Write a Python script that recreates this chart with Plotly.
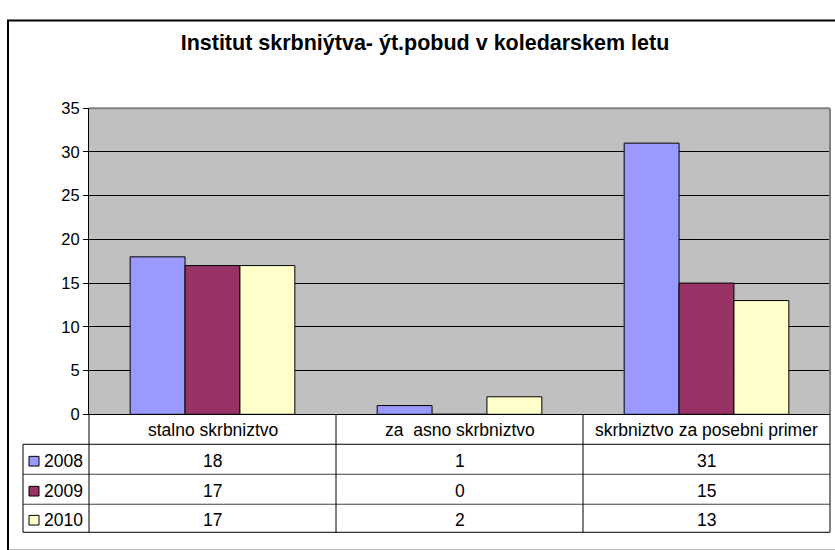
import plotly.graph_objects as go

W, H = 835, 550

title = "Institut skrbniýtva- ýt.pobud v koledarskem letu"
categories = ["stalno skrbniztvo", "za  asno skrbniztvo", "skrbniztvo za posebni primer"]
series_names = ["2008", "2009", "2010"]
values_2008 = [18, 1, 31]
values_2009 = [17, 0, 15]
values_2010 = [17, 2, 13]
series_values = [values_2008, values_2009, values_2010]
colors = ["#9999FF", "#993366", "#FFFFCC"]
y_ticks = [0, 5, 10, 15, 20, 25, 30, 35]


def px(x):
    return x / W


def py(y):
    return 1 - y / H


FONT = "Liberation Sans, Arial, sans-serif"

# layout geometry (pixels)
PL, PR, PT, PB = 89, 830, 102.5, 419
ROW_EDGES = [419, 450, 481, 512, 541]
LEG_L = 23

fig = go.Figure()
for name, vals, col in zip(series_names, series_values, colors):
    fig.add_trace(go.Bar(
        x=categories, y=vals, name=name,
        marker=dict(color=col, line=dict(color="black", width=1)),
        showlegend=False, hoverinfo="skip",
    ))

shapes = []
line_dark = dict(color="black", width=1)
line_gray = dict(color="#404040", width=1)

# outer frame
shapes.append(dict(type="rect", xref="paper", yref="paper",
                   x0=px(8), x1=px(W + 10), y0=py(H + 10), y1=py(12),
                   line=dict(color="black", width=2), fillcolor="rgba(0,0,0,0)", layer="below"))
# plot area top & right border (gray)
shapes.append(dict(type="line", xref="paper", yref="paper",
                   x0=px(PL), x1=px(PR), y0=py(PT), y1=py(PT),
                   line=dict(color="#808080", width=2)))
shapes.append(dict(type="line", xref="paper", yref="paper",
                   x0=px(PR), x1=px(PR), y0=py(PT), y1=py(PB),
                   line=dict(color="#808080", width=2)))

# table horizontal lines
shapes.append(dict(type="line", xref="paper", yref="paper",
                   x0=px(LEG_L), x1=px(PR), y0=py(ROW_EDGES[1]), y1=py(ROW_EDGES[1]), line=line_dark))
for ye in ROW_EDGES[2:4]:
    shapes.append(dict(type="line", xref="paper", yref="paper",
                       x0=px(LEG_L), x1=px(PR), y0=py(ye), y1=py(ye), line=line_gray))
shapes.append(dict(type="line", xref="paper", yref="paper",
                   x0=px(LEG_L), x1=px(PR), y0=py(ROW_EDGES[4]), y1=py(ROW_EDGES[4]), line=line_dark))
# table vertical lines
col_w = (PR - PL) / len(categories)
for i in range(len(categories) + 1):
    xv = PL + i * col_w
    shapes.append(dict(type="line", xref="paper", yref="paper",
                       x0=px(xv), x1=px(xv), y0=py(ROW_EDGES[0]), y1=py(ROW_EDGES[4]), line=line_dark))
shapes.append(dict(type="line", xref="paper", yref="paper",
                   x0=px(LEG_L), x1=px(LEG_L), y0=py(ROW_EDGES[1]), y1=py(ROW_EDGES[4]), line=line_dark))

annotations = []
TFS = 17.5
# header categories
for c in categories:
    annotations.append(dict(x=c, xref="x", y=py((ROW_EDGES[0] + ROW_EDGES[1]) / 2 + 1), yref="paper",
                            text=c, showarrow=False, xanchor="center", yanchor="middle",
                            font=dict(family=FONT, size=TFS, color="black")))
# rows
for r, (name, vals, col) in enumerate(zip(series_names, series_values, colors)):
    yc = (ROW_EDGES[r + 1] + ROW_EDGES[r + 2]) / 2 + 2
    for c, v in zip(categories, vals):
        annotations.append(dict(x=c, xref="x", y=py(yc), yref="paper",
                                text=str(v), showarrow=False, xanchor="center", yanchor="middle",
                                font=dict(family=FONT, size=TFS, color="black")))
    annotations.append(dict(x=px(42), xref="paper", y=py(yc), yref="paper",
                            text=name, showarrow=False, xanchor="left", yanchor="middle",
                            font=dict(family=FONT, size=TFS, color="black")))
    shapes.append(dict(type="rect", xref="paper", yref="paper",
                       x0=px(29), x1=px(39), y0=py(yc + 5), y1=py(yc - 5),
                       fillcolor=col, line=dict(color="black", width=1)))

fig.update_layout(
    width=W, height=H,
    margin=dict(l=0, r=0, t=0, b=0),
    paper_bgcolor="white",
    plot_bgcolor="#C0C0C0",
    barmode="group",
    bargap=1.5 / 4.5,
    bargroupgap=0,
    title=dict(text="<b>" + title + "</b>", x=425 / W, xanchor="center",
               y=py(42), yanchor="middle",
               font=dict(family=FONT, size=21.5, color="black")),
    xaxis=dict(domain=[px(PL), px(PR)], showticklabels=False, ticks="",
               showline=True, linecolor="black", linewidth=1, showgrid=False,
               categoryorder="array", categoryarray=categories),
    yaxis=dict(domain=[py(PB), py(PT)], range=[0, 35], tickvals=y_ticks,
               ticks="outside", ticklen=5, tickcolor="black",
               showline=True, linecolor="black", linewidth=1,
               showgrid=True, gridcolor="black", gridwidth=1,
               zeroline=False,
               tickfont=dict(family=FONT, size=16.5, color="black")),
    shapes=shapes,
    annotations=annotations,
    font=dict(family=FONT),
)

fig.write_html("out.html", config={"displayModeBar": False},
               post_script="document.body.style.margin='0';document.body.style.overflow='hidden';")
